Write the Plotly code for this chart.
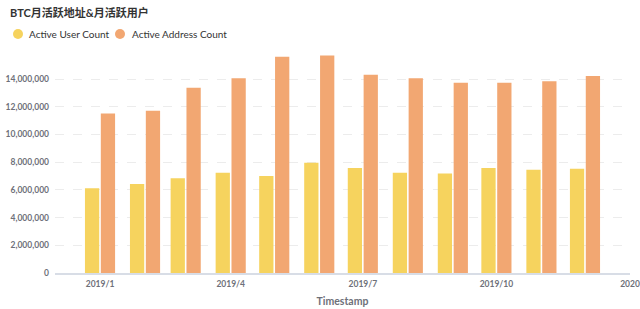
import plotly.graph_objects as go

months = ["2019-01-01", "2019-02-01", "2019-03-01", "2019-04-01", "2019-05-01", "2019-06-01",
          "2019-07-01", "2019-08-01", "2019-09-01", "2019-10-01", "2019-11-01", "2019-12-01"]
active_users = [6110000, 6420000, 6830000, 7240000, 7000000, 7960000,
                7580000, 7240000, 7190000, 7580000, 7460000, 7530000]
active_addresses = [11520000, 11710000, 13370000, 14050000, 15600000, 15700000,
                    14310000, 14050000, 13730000, 13730000, 13830000, 14210000]
tick_dates = ["2019-01-01", "2019-04-01", "2019-07-01", "2019-10-01", "2020-01-01"]
tick_labels = ["2019/1", "2019/4", "2019/7", "2019/10", "2020"]
y_ticks = [0, 2000000, 4000000, 6000000, 8000000, 10000000, 12000000, 14000000]
series_names = ["Active User Count", "Active Address Count"]

YELLOW = "#F6D35E"
ORANGE = "#F2A772"
FONT = "Lato"

W, H = 640, 309
L, R, T, B = 55, 10, 52, 36
PW, PH = W - L - R, H - T - B


def px_x(x):
    return (x - L) / PW


def px_y(y):
    return (H - B - y) / PH


fig = go.Figure()
fig.add_trace(go.Bar(x=months, y=active_users, name=series_names[0],
                     marker=dict(color=YELLOW, line=dict(width=0)), showlegend=False))
fig.add_trace(go.Bar(x=months, y=active_addresses, name=series_names[1],
                     marker=dict(color=ORANGE, line=dict(width=0)), showlegend=False))

annotations = [dict(text="<b>BTC月活跃地址&月活跃用户</b>", xref="paper", yref="paper",
                    x=px_x(8), y=px_y(13), xanchor="left", yanchor="middle", showarrow=False,
                    font=dict(size=11, color="#333333", family="Lato, Noto Sans CJK SC"))]
shapes = []
for name, color, cx, tx in [(series_names[0], YELLOW, 18, 27), (series_names[1], ORANGE, 120, 130)]:
    shapes.append(dict(type="circle", xref="paper", yref="paper",
                       xsizemode="pixel", ysizemode="pixel",
                       xanchor=px_x(cx), yanchor=px_y(34),
                       x0=-5, x1=5, y0=-5, y1=5,
                       fillcolor=color, line=dict(width=0)))
    annotations.append(dict(text=name, xref="paper", yref="paper", x=px_x(tx), y=px_y(34),
                            xanchor="left", yanchor="middle", showarrow=False,
                            font=dict(size=10, color="#333333", family=FONT)))

fig.update_layout(
    width=W, height=H,
    margin=dict(l=L, r=R, t=T, b=B),
    paper_bgcolor="white", plot_bgcolor="white",
    font=dict(family=FONT, color="#333333"),
    barmode="group", bargap=0.22, bargroupgap=0.1,
    showlegend=False,
    annotations=annotations, shapes=shapes,
)

fig.update_xaxes(
    type="date", range=["2018-12-01", "2020-01-01"], automargin=False,
    tickvals=tick_dates, ticktext=tick_labels, ticklabeloverflow="allow",
    showgrid=False, showline=True, linecolor="#d8dde6", linewidth=1.5,
    tickfont=dict(size=8.5, color="#6e7079", weight="bold"), ticklabelstandoff=2,
    ticks="", zeroline=False,
    title=dict(text="Timestamp", font=dict(size=10.5, color="#6e7079", weight="bold"), standoff=10),
)
fig.update_yaxes(
    range=[0, 15950000], tickvals=y_ticks, tickformat=",d", automargin=False,
    showgrid=True, gridcolor="#ececec", griddash="dash", gridwidth=1,
    showline=False, zeroline=False, ticks="", ticklabelstandoff=5,
    tickfont=dict(size=8.5, color="#6e7079", weight="bold"),
)

fig.write_html("out.html")
